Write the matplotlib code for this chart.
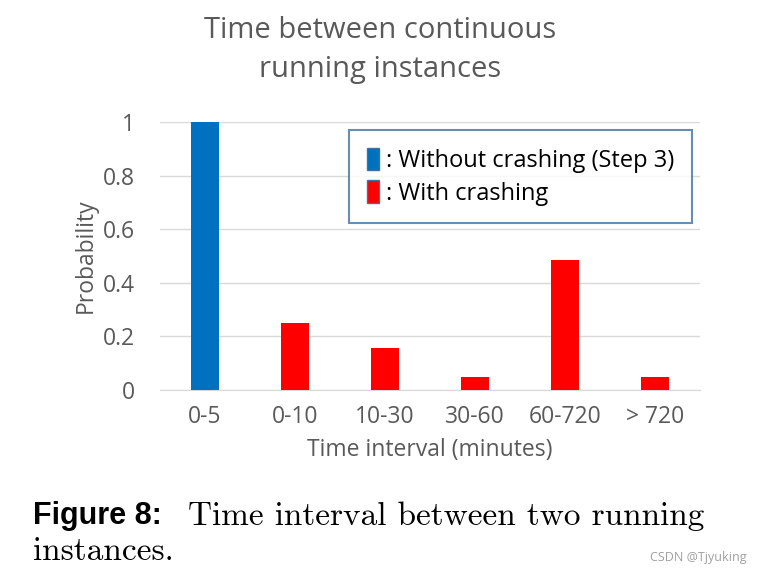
import matplotlib.pyplot as plt
from matplotlib.patches import Patch

# data
categories = ['0-5', '0-10', '10-30', '30-60', '60-720', '> 720']
values = [1.0, 0.25, 0.155, 0.05, 0.485, 0.05]
bar_colors = ['#0070C0', '#FF0000', '#FF0000', '#FF0000', '#FF0000', '#FF0000']
yticks = [0, 0.2, 0.4, 0.6, 0.8, 1]
ytick_labels = ['0', '0.2', '0.4', '0.6', '0.8', '1']

plt.rcParams['font.family'] = ['Open Sans', 'DejaVu Sans']
grey = '#595959'

fig = plt.figure(figsize=(7.62, 5.76), dpi=100)
ax = fig.add_axes([160 / 762, 186 / 576, 540 / 762, 268 / 576])

x = range(len(categories))
ax.bar(x, values, width=0.31, color=bar_colors, zorder=3)

ax.set_xlim(-0.5, len(categories) - 0.5)
ax.set_ylim(0, 1)
ax.set_yticks(yticks)
ax.set_yticklabels(ytick_labels)
ax.set_xticks(list(x))
ax.set_xticklabels(categories)
ax.tick_params(length=0, labelsize=16.5, colors=grey)
ax.tick_params(axis='y', pad=18)
ax.tick_params(axis='x', pad=11)
ax.grid(axis='y', color='#D9D9D9', linewidth=1, zorder=0)
for s in ['top', 'right', 'left']:
    ax.spines[s].set_visible(False)
ax.spines['bottom'].set_color('#D9D9D9')

ax.set_xlabel('Time interval (minutes)', fontsize=16.5, color=grey, labelpad=6)
ax.set_ylabel('Probability', fontsize=16.5, color=grey, labelpad=4)

# title centred on the figure, not on the axes
fig.text(380 / 762, 1 - 50 / 576, 'Time between continuous\nrunning instances',
         fontsize=21, color=grey, ha='center', va='center', linespacing=1.45)

handles = [Patch(facecolor='#0070C0', edgecolor='#41719C', linewidth=1),
           Patch(facecolor='#FF0000', edgecolor='#41719C', linewidth=1)]
leg = ax.legend(handles, [': Without crashing (Step 3)', ': With crashing'],
                loc='upper right', bbox_to_anchor=(0.985, 0.97), fontsize=17,
                frameon=True, fancybox=False, handlelength=0.5, handleheight=1.1,
                handletextpad=0.3, borderpad=0.75, labelspacing=0.3,
                borderaxespad=0)
leg.get_frame().set_edgecolor('#41719C')
leg.get_frame().set_linewidth(1.5)
for t in leg.get_texts():
    t.set_color('black')

# caption below the chart
fig.text(33 / 762, 1 - 516 / 576, 'Figure 8:', fontsize=22, fontweight='bold',
         family=['Liberation Sans Narrow', 'Liberation Sans', 'DejaVu Sans'],
         va='center', ha='left')
fig.text(188 / 762, 1 - 516 / 576, 'Time interval between two running',
         fontsize=24, family=['cmr10', 'DejaVu Serif'], va='center', ha='left')
fig.text(33 / 762, 1 - 551 / 576, 'instances.',
         fontsize=24, family=['cmr10', 'DejaVu Serif'], va='center', ha='left')
fig.text(747 / 762, 1 - 557 / 576, 'CSDN @Tjyuking', fontsize=9, color='#A0A0A0',
         va='center', ha='right')

plt.savefig('out.png', dpi=100)
